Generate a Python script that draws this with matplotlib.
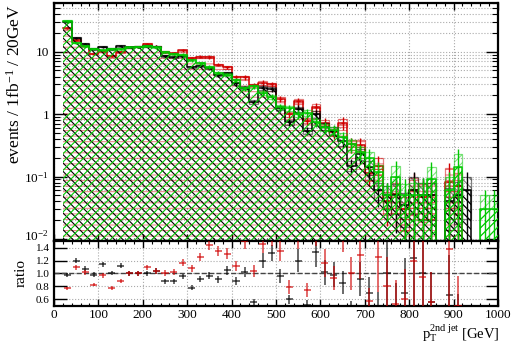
import numpy as np
import matplotlib
matplotlib.use('Agg')
import matplotlib.pyplot as plt
import matplotlib.transforms as mtransforms
from matplotlib.patches import Rectangle
from matplotlib.ticker import MultipleLocator, LogLocator, NullFormatter, FixedLocator

plt.rcParams['font.family'] = 'Liberation Serif'
plt.rcParams['mathtext.fontset'] = 'custom'
plt.rcParams['mathtext.rm'] = 'Liberation Serif'
plt.rcParams['mathtext.it'] = 'Liberation Serif:italic'
plt.rcParams['hatch.linewidth'] = 0.8

# bin edges (GeV), 20 GeV bins from 20 to 1000
edges = np.arange(20, 1001, 20)

green = [31, 14, 12.3, 11.2, 10.5, 11, 11, 11.8, 12, 12.3,
         11.7, 9.8, 9.2, 9.0, 7.3, 6.6, 5.7, 4.6, 4.3, 3.5,
         2.6, 2.8, 2.2, 1.9, 1.3, 1.25, 1.0, 1.05, 0.75, 0.62,
         0.55, 0.43, 0.33, 0.25, 0.2, 0.12, 0.05, 0.1, 0.05, 0.05,
         0.05, 0.09, 0, 0.06, 0.14, 0, 0, 0.03, 0.03]
black = [30.2, 16.8, 13.2, 11.0, 12.0, 11.1, 12.3, 11.8, 12.0, 12.3,
         12.1, 8.6, 8.1, 8.6, 5.7, 6.0, 5.5, 4.2, 4.5, 3.1,
         2.65, 1.57, 2.64, 2.5, 1.25, 0.75, 1.2, 0.54, 1.0, 0.63,
         0.54, 0.37, 0.15, 0.23, 0.14, 0.06, 0.05, 0.05, 0.035, 0.062,
         0.05, 0.05, 0, 0.04, 0.05, 0.06, 0, 0, 0]
red = [23.9, 15.3, 12.5, 9.3, 10.2, 8.5, 9.8, 11.8, 12.0, 13.5,
       12.1, 9.9, 9.4, 10.5, 7.9, 8.3, 8.2, 6.2, 5.6, 3.9,
       3.9, 2.9, 3.2, 3.0, 1.75, 0.99, 1.6, 0.79, 1.28, 0.72,
       0.51, 0.73, 0.33, 0.32, 0.114, 0.15, 0.04, 0.053, 0.03, 0.06,
       0.047, 0.05, 0, 0.083, 0.07, 0, 0, 0, 0]
# relative statistical uncertainty per bin
rel_err = [0.02, 0.025, 0.025, 0.025, 0.025, 0.025, 0.025, 0.025, 0.025, 0.025,
           0.03, 0.03, 0.03, 0.03, 0.035, 0.035, 0.04, 0.04, 0.045, 0.05,
           0.055, 0.06, 0.07, 0.07, 0.08, 0.09, 0.1, 0.1, 0.12, 0.13,
           0.14, 0.15, 0.18, 0.2, 0.25, 0.3, 0.4, 0.5, 0.55, 0.6,
           0.6, 0.6, 0.6, 0.65, 0.65, 0.65, 0.7, 0.7, 0.7]

green = np.array(green, float)
black = np.array(black, float)
red = np.array(red, float)
rel_err = np.array(rel_err)
centers = edges[:-1] + 10
ymin, ymax = 0.0093, 60

GREEN = '#00c800'
RED = '#d00000'
BLACK = '#000000'

fig = plt.figure(figsize=(5.22, 3.44), dpi=100)
ax = fig.add_axes([0.1034, 0.2994, 0.8506, 0.6916])
rax = fig.add_axes([0.1034, 0.1105, 0.8506, 0.1889], sharex=ax)


def draw_hist(vals, color, hatch, z, fill_alpha=1.0):
    v = np.where(vals > 0, vals, 1e-4)
    ext = np.append(v, v[-1])
    ax.fill_between(edges, 1e-4, ext, step='post', facecolor='none',
                    edgecolor=color, hatch=hatch, linewidth=0, zorder=z,
                    alpha=fill_alpha)
    ax.step(edges, ext, where='post', color=color, lw=1.1, zorder=z + 0.5)
    err = vals * rel_err
    for lo, val, e in zip(edges[:-1], vals, err):
        if val <= 0:
            continue
        bottom = max(val - e, 1e-4)
        ax.add_patch(Rectangle((lo, bottom), 20, val + e - bottom, facecolor='none',
                               edgecolor=color, hatch=hatch, lw=0.9, alpha=0.5,
                               zorder=z + 0.3))
    m = vals > 0
    ax.errorbar(centers[m], vals[m], yerr=np.minimum(err[m] * 1.5, vals[m] * 0.999),
                xerr=4, fmt='none', ecolor=color, elinewidth=1.0, zorder=z + 0.6)


draw_hist(red, RED, '---', 2, fill_alpha=0.45)
draw_hist(black, BLACK, '\\\\\\\\', 3)
draw_hist(green, GREEN, '////', 4)

ax.set_yscale('log')
ax.set_ylim(ymin, ymax)
ax.set_xlim(0, 1000)
ax.yaxis.set_major_locator(FixedLocator([0.01, 0.1, 1, 10]))
ax.yaxis.set_minor_locator(LogLocator(base=10, subs=np.arange(2, 10)))
ax.yaxis.set_minor_formatter(NullFormatter())
ax.set_yticklabels(['$10^{-2}$', '$10^{-1}$', '1', '10'])
ax.xaxis.set_major_locator(MultipleLocator(100))
ax.xaxis.set_minor_locator(MultipleLocator(20))
ax.yaxis.grid(True, which='both', ls=':', color='#aaaaaa', lw=0.8)
ax.xaxis.grid(True, which='major', ls=':', color='#aaaaaa', lw=0.8)
ax.set_axisbelow(True)
plt.setp(ax.get_xticklabels(), visible=False)

# ratio panel
m = green > 0
for vals, color in ((black, BLACK), (red, RED)):
    mm = m & (vals > 0)
    r = vals[mm] / green[mm]
    re = r * np.sqrt(2) * rel_err[mm]
    rax.errorbar(centers[mm], r, yerr=re, xerr=8, fmt='none', ecolor=color,
                 elinewidth=1.1, alpha=0.75, zorder=3)
rax.axhline(1.0, ls='--', color='#444444', lw=1.0, zorder=2)
rax.set_ylim(0.5, 1.5)
rax.set_yticks([0.6, 0.8, 1.0, 1.2, 1.4])
rax.set_yticklabels(['0.6', '0.8', '1.0', '1.2', '1.4'])
rax.yaxis.grid(True, ls=':', color='#aaaaaa', lw=0.8)
rax.xaxis.grid(True, which='major', ls=':', color='#aaaaaa', lw=0.8)
rax.set_axisbelow(True)
rax.set_xticks(np.arange(0, 1001, 100))

for a in (ax, rax):
    a.tick_params(which='both', direction='in', top=True, right=True, labelsize=9.5)
    a.tick_params(axis='y', which='major', length=9, width=1.0)
    a.tick_params(axis='y', which='minor', length=4.5, width=0.8)
    a.tick_params(axis='x', which='major', length=5, width=1.0)
    a.tick_params(axis='x', which='minor', length=2.5, width=0.8)
    for s in a.spines.values():
        s.set_linewidth(1.6)
rax.tick_params(axis='x', pad=2)
rax.tick_params(axis='y', labelsize=8, pad=3)

# lift the lowest log label a little so it clears the ratio labels
low_label = ax.get_yticklabels()[0]
low_label.set_transform(low_label.get_transform() +
                        mtransforms.ScaledTranslation(0, 3 / 72, fig.dpi_scale_trans))

fig.text(0.028, 0.988, r'events / 1fb$^{-1}$ / 20GeV', rotation=90, va='top',
         ha='center', fontsize=12.5)
fig.text(0.04, 0.206, 'ratio', rotation=90, va='center', ha='center', fontsize=11)
fig.text(0.958, 0.0, r'$\mathrm{p}_{\mathrm{T}}^{\mathrm{2nd\ jet}}$ [GeV]',
         ha='right', va='bottom', fontsize=10.5)

fig.savefig('out.png', dpi=100)
